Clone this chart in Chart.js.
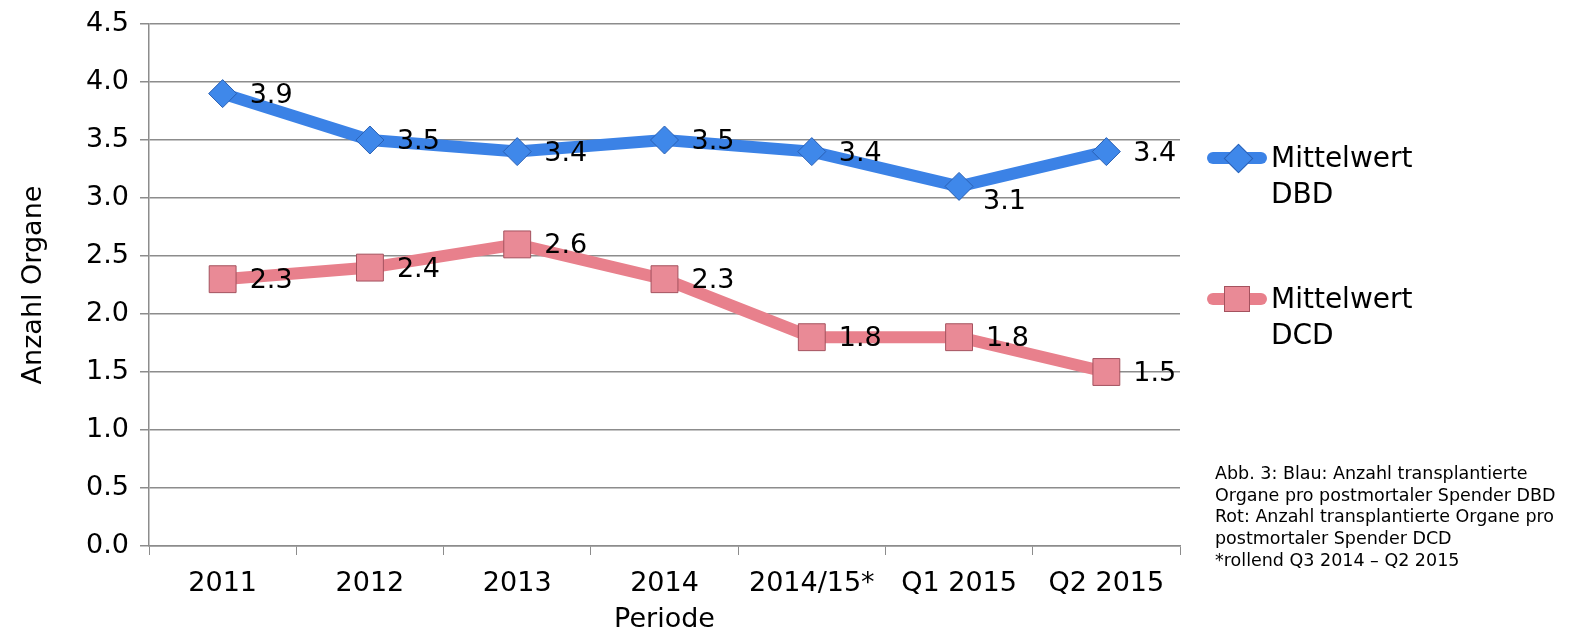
<!DOCTYPE html>
<html>
<head>
<meta charset="utf-8">
<script src="https://cdn.jsdelivr.net/npm/chart.js@4"></script>
<style>
  html, body { margin: 0; padding: 0; background: #fff; }
  #wrap { position: relative; width: 1593px; height: 636px; font-family: "DejaVu Sans", sans-serif; color: #000; }
  canvas { position: absolute; left: 0; top: 0; }
  .leg { position: absolute; left: 1207px; font-size: 28px; line-height: 36px; }
  .leg .bar { position: absolute; left: 0; width: 60px; height: 12px; border-radius: 6px; }
  .leg .txt { position: absolute; left: 64px; top: -18px; white-space: nowrap; }
  .leg .mk { position: absolute; }
  #caption { position: absolute; left: 1215px; top: 463px; font-size: 17.5px; line-height: 21.7px; white-space: nowrap; }
</style>
</head>
<body>
<div id="wrap">
  <canvas id="chart" width="1593" height="636"></canvas>
  <div class="leg" style="top:158px">
    <div class="bar" style="top:-6px;background:#3b82e6"></div>
    <div class="mk" style="left:21px;top:-10px;width:19px;height:19px;transform:rotate(45deg);background:#3f88ea;border:1px solid #2a60b4"></div>
    <div class="txt">Mittelwert<br>DBD</div>
  </div>
  <div class="leg" style="top:299px">
    <div class="bar" style="top:-6px;background:#e8808c"></div>
    <div class="mk" style="left:17px;top:-13px;width:26px;height:26px;background:#e98a96;border:1px solid #a4525e;box-sizing:border-box"></div>
    <div class="txt">Mittelwert<br>DCD</div>
  </div>
  <div id="caption">Abb. 3: Blau: Anzahl transplantierte<br>Organe pro postmortaler Spender DBD<br>Rot: Anzahl transplantierte Organe pro<br>postmortaler Spender DCD<br>*rollend Q3 2014 – Q2 2015</div>
</div>
<script>
const periods = ["2011", "2012", "2013", "2014", "2014/15*", "Q1 2015", "Q2 2015"];
const dbdValues = [3.9, 3.5, 3.4, 3.5, 3.4, 3.1, 3.4];
const dcdValues = [2.3, 2.4, 2.6, 2.3, 1.8, 1.8, 1.5];
const yTicks = [0, 0.5, 1, 1.5, 2, 2.5, 3, 3.5, 4, 4.5];

const FONT = '"DejaVu Sans", sans-serif';
const gridColor = "#8c8c8c";

// value labels to the right of each point, like the Excel original
const valueLabels = {
  id: "valueLabels",
  afterDatasetsDraw(chart) {
    const ctx = chart.ctx;
    ctx.save();
    ctx.font = "27px " + FONT;
    ctx.fillStyle = "#000";
    ctx.textBaseline = "middle";
    ctx.textAlign = "left";
    chart.data.datasets.forEach((ds, i) => {
      const meta = chart.getDatasetMeta(i);
      meta.data.forEach((pt, j) => {
        const dy = (i === 0 && j === 5) ? 14 : 0;
        const dx = (i === 0 && j === 5) ? 24 : 27;
        ctx.fillText(ds.data[j].toFixed(1), pt.x + dx, pt.y + 2 + dy);
      });
    });
    ctx.restore();
  }
};

new Chart(document.getElementById("chart"), {
  type: "line",
  data: {
    labels: periods,
    datasets: [
      {
        label: "Mittelwert DBD",
        data: dbdValues,
        borderColor: "#3b82e6",
        borderWidth: 12,
        pointStyle: "rectRot",
        pointRadius: 14,
        pointHoverRadius: 14,
        pointBackgroundColor: "#3f88ea",
        pointBorderColor: "#2a60b4",
        pointBorderWidth: 1,
        tension: 0
      },
      {
        label: "Mittelwert DCD",
        data: dcdValues,
        borderColor: "#e8808c",
        borderWidth: 12,
        pointStyle: "rect",
        pointRadius: 19,
        pointHoverRadius: 19,
        pointBackgroundColor: "#e98a96",
        pointBorderColor: "#a4525e",
        pointBorderWidth: 1,
        tension: 0
      }
    ]
  },
  options: {
    responsive: false,
    animation: false,
    layout: { padding: { top: 24, right: 413, left: 0, bottom: 0 } },
    plugins: { legend: { display: false }, tooltip: { enabled: false } },
    scales: {
      x: {
        offset: true,
        grid: { drawOnChartArea: false, drawTicks: true, tickLength: 9, offset: true, color: gridColor },
        border: { color: gridColor, width: 1.5 },
        ticks: { font: { family: FONT, size: 27 }, color: "#000", padding: 13, maxRotation: 0 },
        title: { display: true, text: "Periode", font: { family: FONT, size: 27 }, color: "#000", padding: { top: 0, bottom: 0 } },
        afterFit(scale) { scale.height = 90; }
      },
      y: {
        min: 0,
        max: 4.5,
        afterBuildTicks(scale) { scale.ticks = yTicks.map(v => ({ value: v })); },
        grid: { color: gridColor, lineWidth: 1.5, tickLength: 9 },
        border: { color: gridColor, width: 1.5 },
        ticks: {
          font: { family: FONT, size: 27 }, color: "#000", padding: 11,
          callback: v => Number(v).toFixed(1)
        },
        title: { display: true, text: "Anzahl Organe", font: { family: FONT, size: 27 }, color: "#000", padding: { top: 18, bottom: 0 } },
        afterFit(scale) { scale.width = 149; scale.paddingTop = 0; scale.paddingBottom = 0; }
      }
    }
  },
  plugins: [valueLabels]
});
</script>
</body>
</html>
